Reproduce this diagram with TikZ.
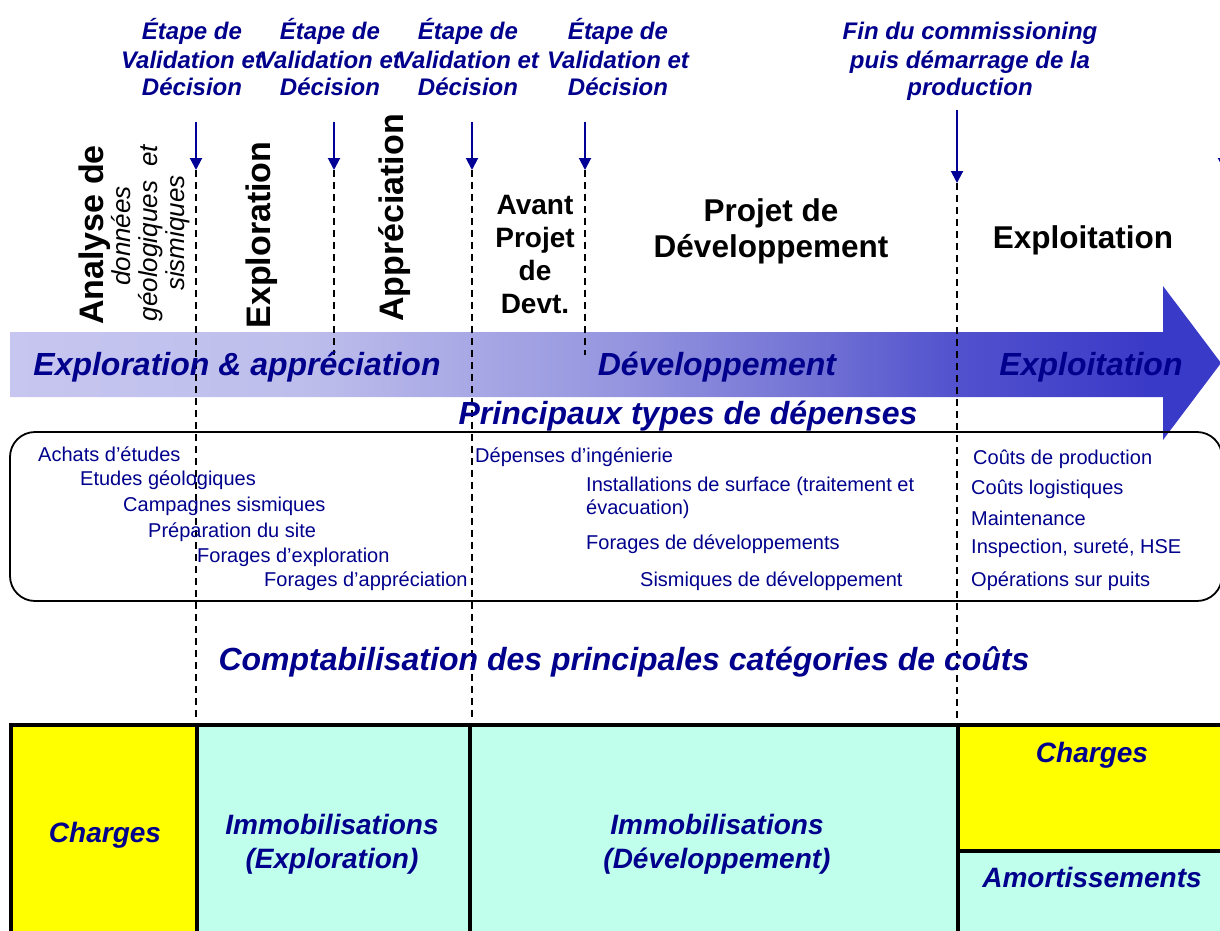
\documentclass[tikz,border=0pt]{standalone}
\usepackage{fontspec}
\setmainfont{Liberation Sans}
\usetikzlibrary{arrows.meta}
\definecolor{tblue}{RGB}{0,0,140}
\definecolor{ablue}{RGB}{0,0,150}
\definecolor{cellY}{RGB}{255,255,0}
\definecolor{cellC}{RGB}{192,255,236}
\definecolor{bandA}{RGB}{198,198,240}
\definecolor{bandB}{RGB}{190,190,236}
\definecolor{bandC}{RGB}{168,168,229}
\definecolor{bandD}{RGB}{150,150,224}
\definecolor{bandE}{RGB}{115,115,213}
\definecolor{bandF}{RGB}{82,82,206}
\definecolor{bandG}{RGB}{58,58,200}
\pgfdeclarehorizontalshading{bandshade}{100bp}{color(0bp)=(bandA); color(25bp)=(bandA); color(37bp)=(bandB); color(44bp)=(bandC); color(50bp)=(bandD); color(58bp)=(bandE); color(64bp)=(bandF); color(72bp)=(bandG); color(100bp)=(bandG)}
\tikzset{
  steplbl/.style={font=\fontsize{24}{28}\selectfont\bfseries\itshape, text=tblue, align=center, anchor=base, inner sep=0pt},
  vbig/.style={rotate=90, anchor=base, inner sep=0pt, font=\fontsize{34}{36}\selectfont\bfseries},
  vsmall/.style={rotate=90, anchor=base, inner sep=0pt, font=\fontsize{26}{28}\selectfont\itshape},
  phase/.style={font=\fontsize{28}{32.7}\selectfont\bfseries, align=center, anchor=base, inner sep=0pt},
  phasebig/.style={font=\fontsize{31.5}{36}\selectfont\bfseries, align=center, anchor=base, inner sep=0pt},
  bandlbl/.style={font=\fontsize{32}{36}\selectfont\bfseries\itshape, text=tblue, anchor=base, inner sep=0pt},
  item/.style={font=\fontsize{20}{23}\selectfont, text=tblue, anchor=base west, inner sep=0pt, align=left},
  celllbl/.style={font=\fontsize{28}{34}\selectfont\bfseries\itshape, text=tblue, align=center, anchor=base, inner sep=0pt},
  marker/.style={draw=ablue, line width=2pt, -{Triangle[width=12pt,length=12pt]}},
  guide/.style={black, line width=1.4pt, dash pattern=on 7pt off 5pt},
  border/.style={black, line width=4.5pt},
}
\begin{document}
\begin{tikzpicture}[x=1pt,y=-1pt]
\useasboundingbox (0,0) rectangle (1220,931);

% ---- band arrow ----
\shade[shading=bandshade] (10,332) -- (1163,332) -- (1163,286) -- (1221,363) -- (1163,440) -- (1163,397) -- (10,397) -- cycle;

% ---- rounded expense box ----
\draw[black, line width=1.8pt, rounded corners=25pt] (10,432) rectangle (1222,601);

% ---- coordinates ----
\coordinate (a1top) at (196,122); \coordinate (a1tip) at (196,170); \coordinate (a1end) at (196,720);
\coordinate (a2top) at (334,122); \coordinate (a2tip) at (334,170); \coordinate (a2end) at (334,355);
\coordinate (a3top) at (472,122); \coordinate (a3tip) at (472,170); \coordinate (a3end) at (472,720);
\coordinate (a4top) at (585,122); \coordinate (a4tip) at (585,170); \coordinate (a4end) at (585,355);
\coordinate (a5top) at (957,110); \coordinate (a5tip) at (957,183); \coordinate (a5end) at (957,720);
\coordinate (a6top) at (1224,110); \coordinate (a6tip) at (1224,170);

% ---- dashed guides ----
\draw[guide] (a1tip) -- (a1end);
\draw[guide] (a2tip) -- (a2end);
\draw[guide] (a3tip) -- (a3end);
\draw[guide] (a4tip) -- (a4end);
\draw[guide] (a5tip) -- (a5end);

% ---- blue markers ----
\draw[marker] (a1top) -- (a1tip);
\draw[marker] (a2top) -- (a2tip);
\draw[marker] (a3top) -- (a3tip);
\draw[marker] (a4top) -- (a4tip);
\draw[marker] (a5top) -- (a5tip);
\draw[marker] (a6top) -- (a6tip);

% ---- top labels (anchor = baseline of last line) ----
\node[steplbl] (s1) at (192,96) {Étape de\\Validation et\\Décision};
\node[steplbl] (s2) at (330,96) {Étape de\\Validation et\\Décision};
\node[steplbl] (s3) at (468,96) {Étape de\\Validation et\\Décision};
\node[steplbl] (s4) at (618,96) {Étape de\\Validation et\\Décision};
\node[steplbl] (s5) at (970,96) {Fin du commissioning\\puis démarrage de la\\production};

% ---- rotated phase labels ----
\node[vbig] (ana) at (103,235) {Analyse de};
\node[vsmall] (don) at (130,236) {données};
\node[vsmall] (geo) at (157,233) {géologiques\ \ et};
\node[vsmall] (sis) at (184,233) {sismiques};
\node[vbig] (expl) at (270,235) {Exploration};
\node[vbig] (appr) at (403,218) {Appréciation};

% ---- horizontal phase labels ----
\node[phase] (avp) at (535,313) {Avant\\Projet\\de\\Devt.};
\node[phasebig] (pdd) at (771,257) {Projet de\\Développement};
\node[phasebig] (expt) at (1083,248) {Exploitation};

% ---- band labels ----
\node[bandlbl] (b1) at (237,375) {Exploration \& appréciation};
\node[bandlbl] (b2) at (717,375) {Développement};
\node[bandlbl] (b3) at (1091,375) {Exploitation};
\node[bandlbl] (ptd) at (688,424) {Principaux types de dépenses};

% ---- expense items ----
\node[item] (i1) at (38,461) {Achats d’études};
\node[item] (i2) at (80,485) {Etudes géologiques};
\node[item] (i3) at (123,511) {Campagnes sismiques};
\node[item] (i4) at (148,537) {Préparation du site};
\node[item] (i5) at (197,562) {Forages d’exploration};
\node[item] (i6) at (264,586) {Forages d’appréciation};
\node[item] (j1) at (475,462) {Dépenses d’ingénierie};
\node[item] (j2) at (586,514) {Installations de surface (traitement et\\évacuation)};
\node[item] (j3) at (586,549) {Forages de développements};
\node[item] (j4) at (640,586) {Sismiques de développement};
\node[item] (k1) at (973,464) {Coûts de production};
\node[item] (k2) at (971,494) {Coûts logistiques};
\node[item] (k3) at (971,525) {Maintenance};
\node[item] (k4) at (971,553) {Inspection, sureté, HSE};
\node[item] (k5) at (971,586) {Opérations sur puits};

% ---- accounting title ----
\node[bandlbl] (cpt) at (624,670) {Comptabilisation des principales catégories de coûts};

% ---- table ----
\fill[cellY] (11,725) rectangle (197,945);
\fill[cellC] (197,725) rectangle (470,945);
\fill[cellC] (470,725) rectangle (958,945);
\fill[cellY] (958,725) rectangle (1235,851);
\fill[cellC] (958,851) rectangle (1235,945);
\draw[border] (8.75,725) -- (1235,725);
\draw[border] (11,725) -- (11,945);
\draw[border] (197,725) -- (197,945);
\draw[border] (470,725) -- (470,945);
\draw[border] (958,725) -- (958,945);
\draw[border] (958,851) -- (1235,851);

\node[celllbl] (t1) at (105,842) {Charges};
\node[celllbl] (t2) at (332,868) {Immobilisations\\(Exploration)};
\node[celllbl] (t3) at (717,868) {Immobilisations\\(Développement)};
\node[celllbl] (t4) at (1092,762) {Charges};
\node[celllbl] (t5) at (1092,887) {Amortissements};
\end{tikzpicture}
\end{document}
